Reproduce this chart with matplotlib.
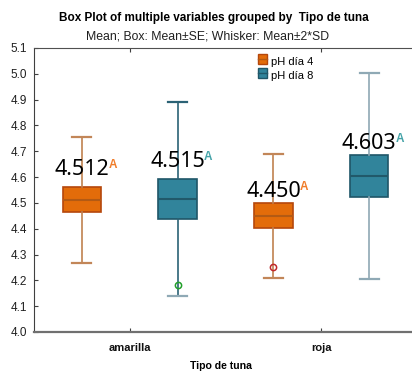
import matplotlib
matplotlib.use("Agg")
import matplotlib.pyplot as plt
from matplotlib.patches import Patch, Rectangle
from matplotlib.lines import Line2D

# values (mean, SE, SD per group)
categories = ["amarilla", "roja"]
series = ["pH día 4", "pH día 8"]
mean_d4 = [4.512, 4.450]
se_d4 = [0.0485, 0.0485]
sd_d4 = [0.1225, 0.1205]
out_d4 = [[], [4.250]]
mean_d8 = [4.515, 4.603]
se_d8 = [0.076, 0.0815]
sd_d8 = [0.188, 0.1995]
out_d8 = [[4.182], []]
letters_d4 = ["A", "A"]
letters_d8 = ["A", "A"]

plt.rcParams["font.family"] = ["Liberation Sans", "DejaVu Sans"]

W, H = 412, 372
fig = plt.figure(figsize=(W/100, H/100), dpi=100)
ax = fig.add_axes([34/W, 1-332/H, 383/W, 284/H])

def stats(m, se, sd, fl):
    return dict(med=m, q1=m-se, q3=m+se, whislo=m-2*sd, whishi=m+2*sd,
                fliers=fl, mean=m)

groups = [
    (mean_d4, se_d4, sd_d4, out_d4, -0.25,
     dict(fc="#E36C0A", ec="#B5470C", med="#B35A14", wh="#C0814F", cap="#C28658", fl="#C0282A", lab="#F07D2B")),
    (mean_d8, se_d8, sd_d8, out_d8, 0.25,
     dict(fc="#31849B", ec="#1F5668", med="#21596A", wh="#2B6275", cap="#8FA9B5", fl="#22A02A", lab="#45A3A8")),
]
letters = [letters_d4, letters_d8]
label_pad = [12, 6]  # px above box top, per category
num_font = "Noto Sans"

labels = []
for gi, (m, se, sd, fl, off, c) in enumerate(groups):
    st = [stats(m[i], se[i], sd[i], fl[i]) for i in range(len(categories))]
    pos = [i + 1 + off for i in range(len(categories))]
    b = ax.bxp(st, positions=pos, widths=0.2, patch_artist=True,
               showfliers=True, capwidths=0.1,
               boxprops=dict(facecolor=c["fc"], edgecolor=c["ec"], linewidth=1.2),
               medianprops=dict(color=c["med"], linewidth=1.5),
               whiskerprops=dict(color=c["wh"], linewidth=1.2),
               capprops=dict(color=c["cap"], linewidth=1.6),
               flierprops=dict(marker="o", markersize=4.5, markerfacecolor="none",
                               markeredgecolor=c["fl"], markeredgewidth=1.1))
    if gi == 1:
        # second teal box has light whiskers
        for w in b["whiskers"][2:4]:
            w.set_color("#8FA8B4")
        b["caps"][1].set_color("#2B6275")
    for i in range(len(categories)):
        t = ax.annotate(f"{m[i]:.3f}", xy=(pos[i], m[i] + se[i]),
                        xytext=(0, label_pad[i]), textcoords="offset pixels",
                        ha="center", va="baseline", fontsize=15.5,
                        family=num_font, color="black")
        labels.append((t, letters[gi][i], c["lab"], pos[i], m[i] + se[i], label_pad[i]))

ax.set_xlim(0.5, 2.5)
ax.set_ylim(4.0, 5.1)
ax.set_yticks([4.0 + 0.1*k for k in range(12)])
ax.set_yticklabels([f"{4.0 + 0.1*k:.1f}" for k in range(12)])
ax.set_xticks([1, 2])
ax.set_xticklabels(categories, fontweight="bold", fontsize=8)
ax.tick_params(axis="y", direction="in", length=3, labelsize=8.5, pad=5, colors="#404040",
               labelcolor="#202020")
ax.tick_params(axis="x", direction="in", length=3, top=True, pad=8, colors="#404040",
               labelcolor="#111111")
ax.spines["left"].set_color("#404040")
ax.spines["top"].set_color("#505050")
ax.spines["bottom"].set_color("#707070")
ax.spines["bottom"].set_linewidth(1.6)
ax.spines["right"].set_visible(False)


class BoxHandler:
    # small box with a median line through it
    def __init__(self, c):
        self.c = c

    def legend_artist(self, legend, orig, fontsize, handlebox):
        x0, y0 = handlebox.xdescent, handlebox.ydescent
        w, h = handlebox.width, handlebox.height
        tr = handlebox.get_transform()
        rect = Rectangle((x0, y0), w, h, facecolor=self.c["fc"],
                         edgecolor=self.c["ec"], lw=1, transform=tr)
        handlebox.add_artist(rect)
        handlebox.add_artist(Line2D([x0, x0 + w], [y0 + h/2]*2,
                                    color=self.c["med"], lw=1, transform=tr))
        return rect


handles = [Patch(label=s) for s in series]
ax.legend(handles, series,
          handler_map={handles[k]: BoxHandler(groups[k][5]) for k in range(2)},
          loc="upper left", bbox_to_anchor=(258/W, 1-56/H),
          bbox_transform=fig.transFigure, frameon=False, fontsize=8,
          handlelength=0.85, handleheight=0.95, handletextpad=0.3,
          borderpad=0, borderaxespad=0, labelspacing=0.3)

fig.text(214/W, 1-20.5/H, "Box Plot of multiple variables grouped by  Tipo de tuna",
         ha="center", va="baseline", fontsize=8.5, weight="bold")
fig.text(208/W, 1-39.5/H, "Mean; Box: Mean±SE; Whisker: Mean±2*SD",
         ha="center", va="baseline", fontsize=8.8, color="#202020")
fig.text(221/W, 1-369/H, "Tipo de tuna", ha="center", va="baseline",
         fontsize=7.6, weight="bold")

# superscript letters, placed right after each number with top at digit top
fig.canvas.draw()
r = fig.canvas.get_renderer()
for t, let, col, x, y, pad in labels:
    bb = t.get_window_extent(r)
    base = ax.transData.transform((x, y))[1] + pad
    fig.text((bb.x1 - 1)/W, (base + 16)/H, let, ha="left", va="top",
             fontsize=8.5, weight="bold", color=col)

fig.savefig("out.png", dpi=100)
